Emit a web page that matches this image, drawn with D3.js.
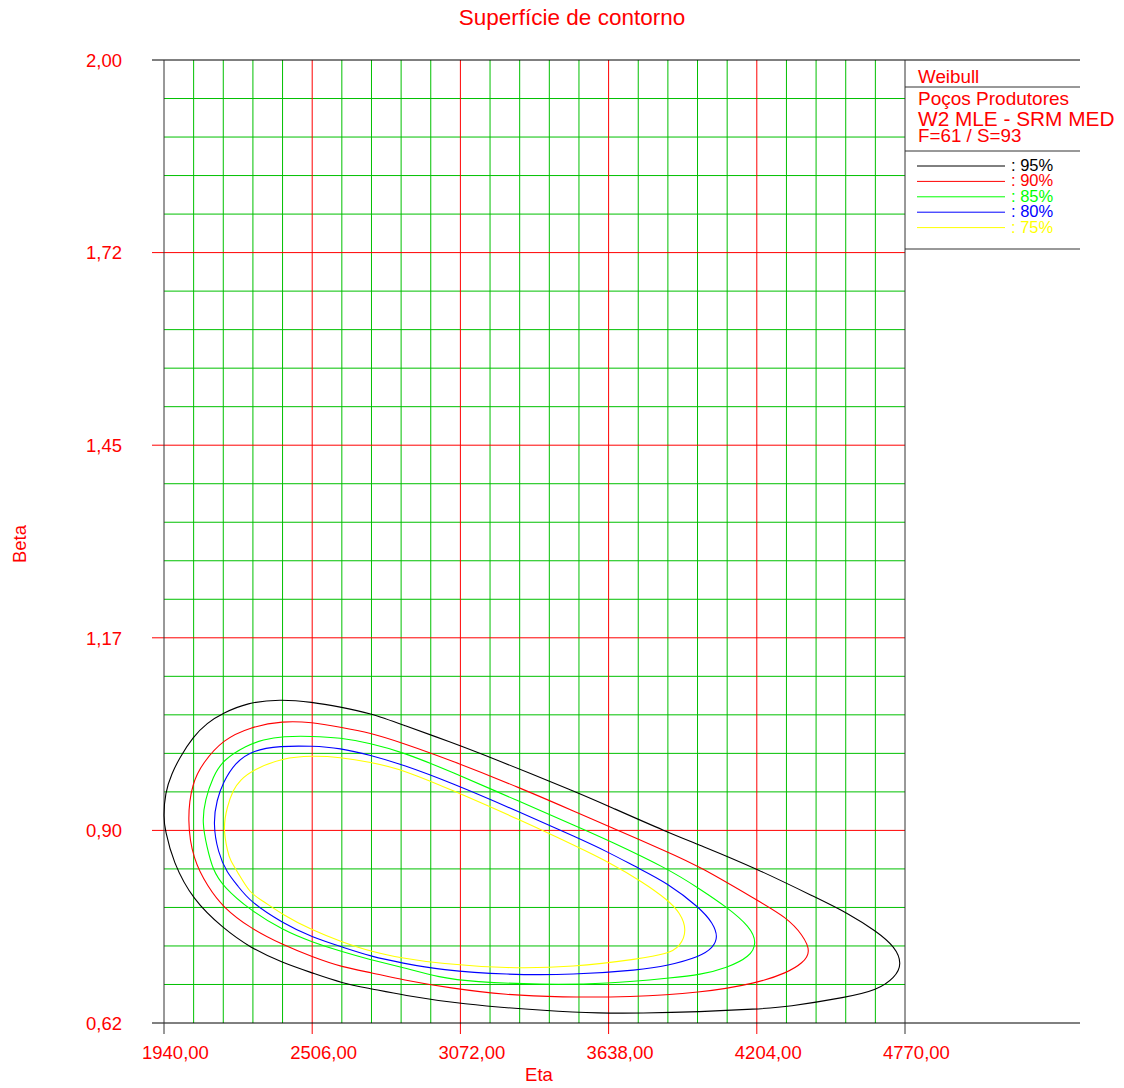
<!DOCTYPE html>
<html>
<head>
<meta charset="utf-8">
<script src="https://cdn.jsdelivr.net/npm/d3@7"></script>
<style>
  body { margin: 0; background: #ffffff; }
  text { font-family: "Liberation Sans", Arial, Helvetica, sans-serif; }
</style>
</head>
<body>
<svg id="chart" width="1124" height="1088"></svg>
<script>
// Axis ticks
const xTickValues = [1940, 2506, 3072, 3638, 4204, 4770];
const xTickLabels = ["1940,00", "2506,00", "3072,00", "3638,00", "4204,00", "4770,00"];
const yTickValues = [0.62, 0.896, 1.172, 1.448, 1.724, 2.00];
const yTickLabels = ["0,62", "0,90", "1,17", "1,45", "1,72", "2,00"];
const minorDivisions = 5;

// Confidence levels of the likelihood contours
const levelNames = ["95%", "90%", "85%", "80%", "75%"];
const levelColors = ["#000000", "#ff0000", "#00ff00", "#0000ff", "#ffff00"];

// Legend header lines
const headerLines = ["Weibull", "Poços Produtores", "W2 MLE - SRM MED", "F=61 / S=93"];

// Contour outlines as [Eta, Beta] pairs
const contour95 = [
  [1938,0.915],[1944,0.950],[1970,0.978],[2001,1.001],[2051,1.030],[2104,1.050],[2165,1.064],
  [2257,1.079],[2383,1.084],[2505,1.080],[2612,1.073],[2727,1.064],[2853,1.047],[3032,1.023],
  [3185,1.001],[3521,0.950],[3636,0.931],[3865,0.893],[3987,0.875],[4205,0.841],[4434,0.799],
  [4549,0.778],[4663,0.751],[4732,0.729],[4759,0.705],[4732,0.685],[4663,0.667],[4549,0.657],
  [4319,0.643],[4205,0.640],[3987,0.636],[3758,0.634],[3605,0.634],[3414,0.637],[3070,0.647],
  [2849,0.660],[2734,0.669],[2620,0.677],[2505,0.692],[2394,0.706],[2268,0.728],[2165,0.756],
  [2051,0.796],[1974,0.851],[1944,0.897]
];
const contour90 = [
  [2028,0.911],[2047,0.964],[2089,0.993],[2165,1.026],[2268,1.044],[2394,1.053],[2505,1.051],
  [2612,1.044],[2727,1.036],[2853,1.021],[3032,0.997],[3300,0.957],[3521,0.921],[3636,0.902],
  [3865,0.865],[3987,0.844],[4205,0.796],[4319,0.771],[4380,0.746],[4411,0.722],[4380,0.706],
  [4319,0.692],[4205,0.677],[3987,0.663],[3720,0.657],[3452,0.657],[3250,0.660],[3032,0.670],
  [2849,0.682],[2734,0.692],[2620,0.700],[2505,0.715],[2394,0.732],[2268,0.756],[2165,0.786],
  [2108,0.815],[2051,0.854]
];
const contour85 = [
  [2085,0.908],[2097,0.940],[2127,0.973],[2165,0.997],[2257,1.018],[2318,1.026],[2394,1.031],
  [2505,1.031],[2612,1.029],[2727,1.021],[2853,1.008],[3032,0.981],[3300,0.937],[3521,0.901],
  [3636,0.882],[3865,0.841],[3987,0.812],[4090,0.786],[4178,0.758],[4205,0.735],[4178,0.715],
  [4090,0.699],[3987,0.689],[3884,0.685],[3632,0.676],[3376,0.675],[3120,0.679],[2994,0.685],
  [2849,0.700],[2734,0.710],[2620,0.722],[2505,0.736],[2394,0.753],[2268,0.782],[2165,0.816],
  [2127,0.839],[2104,0.872]
];
const contour80 = [
  [2127,0.907],[2142,0.940],[2165,0.964],[2211,0.993],[2280,1.011],[2383,1.017],[2505,1.017],
  [2612,1.014],[2727,1.004],[2853,0.990],[3032,0.965],[3300,0.922],[3521,0.885],[3636,0.865],
  [3750,0.842],[3861,0.821],[3987,0.785],[4037,0.763],[4056,0.743],[4037,0.728],[3987,0.715],
  [3861,0.702],[3758,0.696],[3502,0.689],[3250,0.689],[2994,0.696],[2849,0.706],[2734,0.715],
  [2620,0.729],[2505,0.743],[2394,0.763],[2268,0.794],[2219,0.818],[2181,0.835],[2146,0.864]
];
const contour75 = [
  [2165,0.899],[2181,0.930],[2204,0.954],[2230,0.968],[2280,0.983],[2394,1.000],[2505,1.003],
  [2612,1.001],[2727,0.994],[2853,0.983],[3032,0.955],[3300,0.911],[3521,0.872],[3636,0.851],
  [3769,0.822],[3865,0.796],[3911,0.778],[3938,0.753],[3911,0.729],[3861,0.719],[3758,0.712],
  [3502,0.700],[3250,0.698],[2994,0.705],[2849,0.713],[2734,0.722],[2620,0.736],[2505,0.753],
  [2394,0.775],[2314,0.796],[2268,0.806],[2223,0.835],[2192,0.854],[2184,0.864]
];
const contours = [contour95, contour90, contour85, contour80, contour75];

// ---- layout ----
const svg = d3.select("#chart");
const plotLeft = 164, plotRight = 905, plotTop = 60, plotBottom = 1023;
const frameLeft = 152, frameRight = 1080;
const gridGreen = "#00c000", gridRed = "#ff0000", textRed = "#ff0000";

const x = d3.scaleLinear().domain([xTickValues[0], xTickValues[xTickValues.length - 1]]).range([plotLeft, plotRight]);
const y = d3.scaleLinear().domain([yTickValues[0], yTickValues[yTickValues.length - 1]]).range([plotBottom, plotTop]);

// minor grid positions between the major ticks
function minorBetween(ticks) {
  const out = [];
  for (let i = 0; i < ticks.length - 1; i++) {
    const step = (ticks[i + 1] - ticks[i]) / minorDivisions;
    for (let j = 1; j < minorDivisions; j++) out.push(ticks[i] + j * step);
  }
  return out;
}
const xMinor = minorBetween(xTickValues);
const yMinor = minorBetween(yTickValues);

const grid = svg.append("g").attr("fill", "none").attr("stroke-width", 1);

// minor vertical / horizontal grid
grid.selectAll("line.xm").data(xMinor).join("line")
  .attr("x1", d => x(d)).attr("x2", d => x(d))
  .attr("y1", plotTop).attr("y2", plotBottom)
  .attr("stroke", gridGreen);
grid.selectAll("line.ym").data(yMinor).join("line")
  .attr("x1", plotLeft).attr("x2", plotRight)
  .attr("y1", d => y(d)).attr("y2", d => y(d))
  .attr("stroke", gridGreen);

// major inner grid (red), extending past the axes as ticks
grid.selectAll("line.xM").data(xTickValues.slice(1, -1)).join("line")
  .attr("x1", d => x(d)).attr("x2", d => x(d))
  .attr("y1", plotTop).attr("y2", plotBottom + 11)
  .attr("stroke", gridRed);
grid.selectAll("line.yM").data(yTickValues.slice(1, -1)).join("line")
  .attr("x1", frameLeft).attr("x2", plotRight)
  .attr("y1", d => y(d)).attr("y2", d => y(d))
  .attr("stroke", gridRed);

// frame
const frame = svg.append("g").attr("stroke", "#000").attr("stroke-width", 1);
const yTop = y(yTickValues[yTickValues.length - 1]), yBot = y(yTickValues[0]);
frame.append("line").attr("x1", frameLeft).attr("x2", frameRight).attr("y1", yTop).attr("y2", yTop);
frame.append("line").attr("x1", frameLeft).attr("x2", frameRight).attr("y1", yBot).attr("y2", yBot);
frame.append("line").attr("x1", x(xTickValues[0])).attr("x2", x(xTickValues[0]))
  .attr("y1", plotTop).attr("y2", plotBottom + 11).attr("stroke", "#333");
frame.append("line").attr("x1", x(xTickValues[xTickValues.length - 1])).attr("x2", x(xTickValues[xTickValues.length - 1]))
  .attr("y1", plotTop).attr("y2", plotBottom + 11).attr("stroke", "#333");

// tick labels through d3 axes
const xAxis = d3.axisBottom(x).tickValues(xTickValues).tickSize(0)
  .tickFormat((d, i) => xTickLabels[i]);
const gx = svg.append("g").attr("transform", `translate(0,${plotBottom})`).call(xAxis);
gx.select(".domain").remove();
gx.selectAll("text")
  .attr("fill", textRed).attr("font-size", 18.5)
  .attr("text-anchor", "start")
  .attr("x", -22.5).attr("y", 36).attr("dy", null);

const yAxis = d3.axisLeft(y).tickValues(yTickValues).tickSize(0)
  .tickFormat((d, i) => yTickLabels[i]);
const gy = svg.append("g").attr("transform", `translate(${plotLeft},0)`).call(yAxis);
gy.select(".domain").remove();
gy.selectAll("text")
  .attr("fill", textRed).attr("font-size", 18.5)
  .attr("text-anchor", "end")
  .attr("x", -42).attr("dy", "0.34em");

// titles
svg.append("text").attr("x", 572).attr("y", 25).attr("text-anchor", "middle")
  .attr("fill", textRed).attr("font-size", 22.5).text("Superfície de contorno");
svg.append("text").attr("x", 539).attr("y", 1081).attr("text-anchor", "middle")
  .attr("fill", textRed).attr("font-size", 18.5).text("Eta");
svg.append("text").attr("transform", "translate(26,544) rotate(-90)").attr("text-anchor", "middle")
  .attr("fill", textRed).attr("font-size", 18.5).text("Beta");

// contour curves
const line = d3.line().x(d => x(d[0])).y(d => y(d[1])).curve(d3.curveBasisClosed);
svg.append("g").selectAll("path").data(contours).join("path")
  .attr("d", d => line(d))
  .attr("fill", "none")
  .attr("stroke", (d, i) => levelColors[i])
  .attr("stroke-width", 1.1);

// legend box
const lg = svg.append("g");
[87, 151, 249].forEach(v => {
  lg.append("line").attr("x1", plotRight).attr("x2", frameRight).attr("y1", v).attr("y2", v)
    .attr("stroke", "#333").attr("stroke-width", 1);
});
const headerY = [83, 105, 126, 142];
const headerSize = [18.8, 19, 20.8, 18.8];
lg.selectAll("text.h").data(headerLines).join("text")
  .attr("x", 918).attr("y", (d, i) => headerY[i])
  .attr("font-size", (d, i) => headerSize[i])
  .attr("fill", textRed).text(d => d);

const legendRow = 15.4;
levelNames.forEach((name, i) => {
  const ly = 166 + i * legendRow;
  lg.append("line").attr("x1", 917).attr("x2", 1005).attr("y1", ly).attr("y2", ly)
    .attr("stroke", levelColors[i]).attr("stroke-width", 1);
  lg.append("text").attr("x", 1011).attr("y", ly + 5)
    .attr("font-size", 16.5).attr("fill", levelColors[i]).text(": " + name);
});
</script>
</body>
</html>
